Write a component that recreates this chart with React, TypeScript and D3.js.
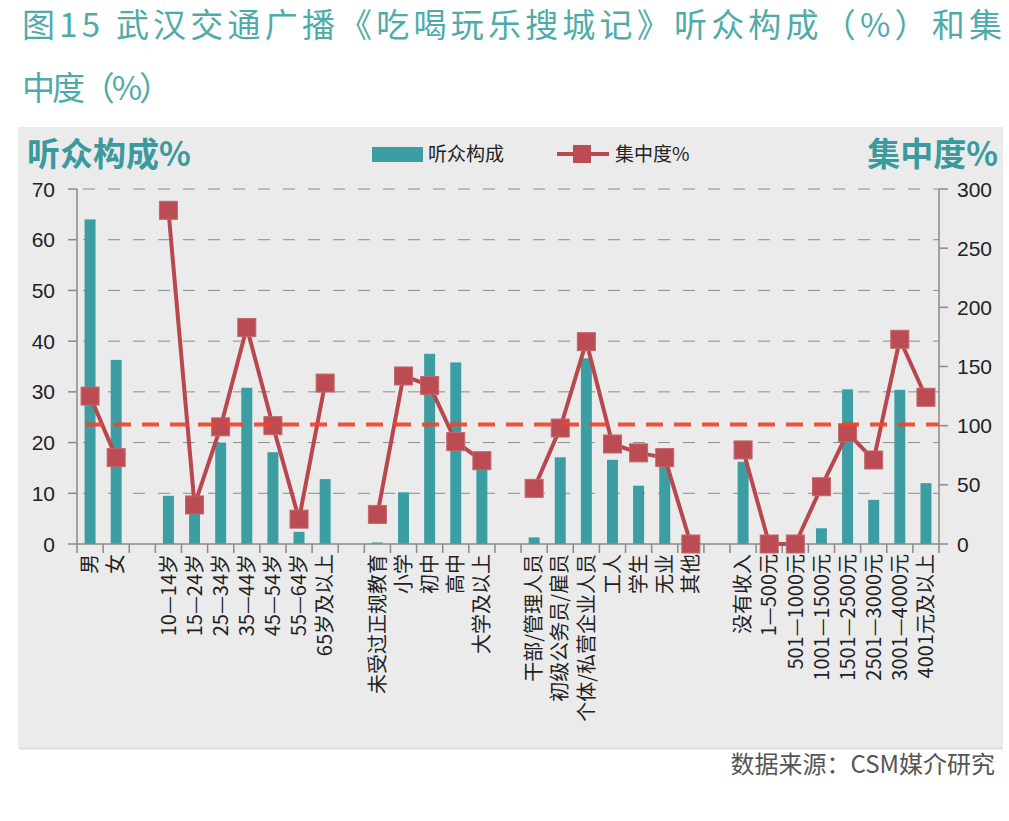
import * as d3 from "d3";

// categories, "" marks an empty slot between groups
const categories = [
  "男", "女", "",
  "10—14岁", "15—24岁", "25—34岁", "35—44岁", "45—54岁", "55—64岁", "65岁及以上", "",
  "未受过正规教育", "小学", "初中", "高中", "大学及以上", "",
  "干部/管理人员", "初级公务员/雇员", "个体/私营企业人员", "工人", "学生", "无业", "其他", "",
  "没有收入", "1—500元", "501—1000元", "1001—1500元", "1501—2500元", "2501—3000元", "3001—4000元", "4001元及以上",
];

// 听众构成 (%), left axis
const composition = [
  64, 36.3, null,
  9.5, 7, 20, 30.8, 18.1, 2.4, 12.8, null,
  0.3, 10.2, 37.5, 35.8, 15.5, null,
  1.3, 17.1, 36.6, 16.6, 11.5, 15.5, 0, null,
  16.2, 0, 0, 3.1, 30.5, 8.7, 30.4, 12,
];

// 集中度 (%), right axis
const concentration = [
  125, 73, null,
  282, 33, 99, 183, 100, 21, 136, null,
  25, 142, 134, 86.5, 70.4, null,
  47, 98, 171, 84.5, 77, 73, 0, null,
  79.5, 0, 0, 48.4, 94, 71, 173, 124,
];

const leftTicks = [0, 10, 20, 30, 40, 50, 60, 70];
const rightTicks = [0, 50, 100, 150, 200, 250, 300];
const baseline = 101; // 集中度 = 100 reference

const W = 1009;
const H = 821;
const m = { left: 77, right: 939, top: 189, bottom: 544 };

const TEAL = "#3c9ea3";
const RED = "#b9474e";
const CJK = "'Noto Sans CJK SC', 'Noto Sans', sans-serif";
const NUM = "'Liberation Sans', Arial, sans-serif";

export default function App() {
  const idx = d3.range(categories.length);
  const slot = d3.scaleBand<number>().domain(idx).range([m.left, m.right]).padding(0);
  const xBar = d3
    .scaleBand<number>()
    .domain(idx)
    .range([m.left, m.right])
    .paddingInner(0.58)
    .paddingOuter(0.29);
  const yL = d3.scaleLinear().domain([0, 70]).range([m.bottom, m.top]);
  const yR = d3.scaleLinear().domain([0, 300]).range([m.bottom, m.top]);
  const cx = (i: number) => (slot(i) as number) + slot.bandwidth() / 2;

  const line = d3
    .line<number | null>()
    .defined((d) => d != null)
    .x((_, i) => cx(i))
    .y((d) => yR(d as number));

  const boundaries = d3.range(categories.length + 1).map((i) => m.left + i * slot.step());

  return (
    <svg width={W} height={H} style={{ position: "absolute", left: 0, top: 0, background: "#fff" }}>
      {/* title */}
      <text x={22} y={37} fontFamily={CJK} fontSize={33} fill="#4fabaa" textLength={980} lengthAdjust="spacing">
        图15 武汉交通广播《吃喝玩乐搜城记》听众构成（%）和集
      </text>
      <text x={22} y={100} fontFamily={CJK} fontSize={33} fill="#4fabaa" textLength={150} lengthAdjust="spacing">
        中度（%）
      </text>

      {/* panel */}
      <rect x={18} y={127} width={985} height={621} fill="#ebebeb" />
      <line x1={19} x2={1003} y1={748.5} y2={748.5} stroke="#dcdcdc" strokeWidth={2} />

      {/* axis titles */}
      <text x={27} y={166} fontFamily={CJK} fontWeight={700} fontSize={33} fill="#3a9a9e">
        听众构成%
      </text>
      <text x={998} y={166} textAnchor="end" fontFamily={CJK} fontWeight={700} fontSize={33} fill="#3a9a9e">
        集中度%
      </text>

      {/* legend */}
      <rect x={372} y={147} width={51} height={15} fill={TEAL} />
      <text x={428} y={161} fontFamily={CJK} fontSize={19} fill="#222">听众构成</text>
      <line x1={557} x2={609} y1={154} y2={154} stroke={RED} strokeWidth={4} />
      <rect x={573} y={145} width={18} height={18} fill="#bb4c53" />
      <text x={615} y={161} fontFamily={CJK} fontSize={19} fill="#222">集中度%</text>

      {/* grid */}
      {leftTicks.filter((t) => t > 0).map((t) => (
        <line key={"g" + t} x1={m.left} x2={m.right} y1={yL(t)} y2={yL(t)}
          stroke="#8c8c8c" strokeWidth={1} strokeDasharray="12 13" strokeDashoffset={-6} />
      ))}

      {/* left axis */}
      <line x1={m.left} x2={m.left} y1={m.top} y2={m.bottom} stroke="#8a8a8a" strokeWidth={1.5} />
      {leftTicks.map((t) => (
        <g key={"l" + t}>
          <line x1={m.left - 9} x2={m.left} y1={yL(t)} y2={yL(t)} stroke="#8a8a8a" strokeWidth={1.5} />
          <text x={55} y={yL(t)} dy="0.36em" textAnchor="end" fontFamily={NUM} fontSize={21} fill="#222">{t}</text>
        </g>
      ))}

      {/* right axis */}
      <line x1={m.right} x2={m.right} y1={m.top} y2={m.bottom} stroke="#8a8a8a" strokeWidth={1.5} />
      {rightTicks.map((t) => (
        <g key={"r" + t}>
          <line x1={m.right} x2={m.right + 9} y1={yR(t)} y2={yR(t)} stroke="#8a8a8a" strokeWidth={1.5} />
          <text x={957} y={yR(t)} dy="0.36em" fontFamily={NUM} fontSize={21} fill="#222">{t}</text>
        </g>
      ))}

      {/* bars */}
      {composition.map((v, i) =>
        v == null ? null : (
          <rect key={"b" + i} x={xBar(i)} y={yL(v)} width={xBar.bandwidth()} height={m.bottom - yL(v)} fill={TEAL} />
        )
      )}

      {/* x axis */}
      <line x1={m.left} x2={m.right} y1={m.bottom} y2={m.bottom} stroke="#8a8a8a" strokeWidth={1.5} />
      {boundaries.map((bx, i) => (
        <line key={"t" + i} x1={bx} x2={bx} y1={m.bottom} y2={m.bottom + 9} stroke="#8a8a8a" strokeWidth={1.5} />
      ))}
      {categories.map((c, i) =>
        c === "" ? null : (
          <text key={"x" + i} transform={`translate(${cx(i)},${m.bottom + 10}) rotate(-90)`}
            textAnchor="end" dy="0.36em" fontFamily={CJK} fontSize={20} fill="#222">
            {c}
          </text>
        )
      )}

      {/* concentration line */}
      <path d={line(concentration) || ""} fill="none" stroke={RED} strokeWidth={4} strokeLinejoin="round" />
      {concentration.map((v, i) =>
        v == null ? null : (
          <rect key={"m" + i} x={cx(i) - 9} y={yR(v) - 9} width={18} height={18}
            fill="#bb4c53" stroke="#c4666c" strokeWidth={1} />
        )
      )}

      {/* reference line */}
      <line x1={86} x2={m.right} y1={yR(baseline)} y2={yR(baseline)}
        stroke="#f2432a" strokeWidth={4} strokeDasharray="17 11" opacity={0.92} />

      {/* source */}
      <text x={995} y={773} textAnchor="end" fontFamily={CJK} fontSize={24} fill="#555">
        数据来源：CSM媒介研究
      </text>
    </svg>
  );
}
